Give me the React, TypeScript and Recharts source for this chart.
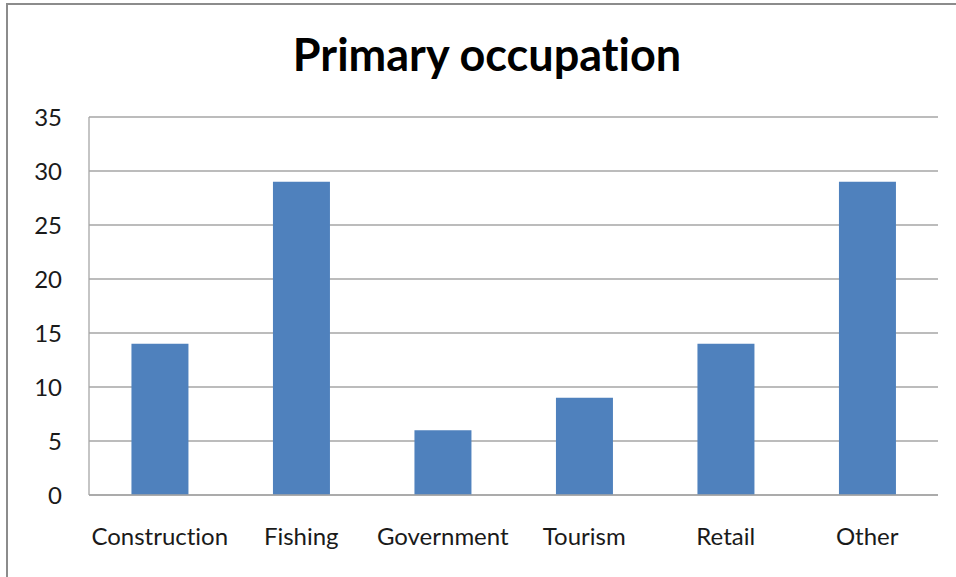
import { BarChart, Bar, XAxis, YAxis, CartesianGrid } from "recharts";

const categories = ["Construction", "Fishing", "Government", "Tourism", "Retail", "Other"];
const counts = [14, 29, 6, 9, 14, 29];
const yTicks = [0, 5, 10, 15, 20, 25, 30, 35];

const data = categories.map((name, i) => ({ name, count: counts[i] }));

const font = "Lato, 'Open Sans', sans-serif";
const gridColor = "#a6a6a6";

export default function App() {
  return (
    <div
      style={{
        position: "absolute",
        left: 0,
        top: 0,
        width: 956,
        height: 577,
        overflow: "hidden",
        background: "#fff",
        fontFamily: font,
        fontVariantLigatures: "none",
      }}
    >
      {/* outer chart frame, runs off the right and bottom edges */}
      <div
        style={{
          position: "absolute",
          left: 6,
          top: 3,
          width: 1000,
          height: 620,
          border: "2px solid #8c8c8c",
        }}
      />
      <div
        style={{
          position: "absolute",
          left: 487,
          top: 32,
          transform: "translateX(-50%)",
          whiteSpace: "nowrap",
          fontSize: 45,
          lineHeight: 1,
          fontWeight: 700,
          color: "#000",
        }}
      >
        Primary occupation
      </div>
      <div style={{ position: "absolute", left: 0, top: 0 }}>
        <BarChart
          width={956}
          height={577}
          data={data}
          margin={{ top: 117, right: 18, left: 0, bottom: 0 }}
          barCategoryGap="30%"
        >
          <CartesianGrid vertical={false} stroke={gridColor} strokeWidth={1.3} />
          <XAxis
            dataKey="name"
            height={82}
            axisLine={{ stroke: gridColor, strokeWidth: 1.3 }}
            tickLine={false}
            tickMargin={27}
            tick={{ fontSize: 24, fill: "#1a1a1a", fontFamily: font }}
            interval={0}
          />
          <YAxis
            width={89}
            domain={[0, 35]}
            ticks={yTicks}
            axisLine={{ stroke: gridColor, strokeWidth: 1.3 }}
            tickLine={false}
            tickMargin={21}
            tick={{ fontSize: 24, fill: "#1a1a1a", fontFamily: font }}
          />
          <Bar dataKey="count" fill="#4f81bd" isAnimationActive={false} />
        </BarChart>
      </div>
    </div>
  );
}
